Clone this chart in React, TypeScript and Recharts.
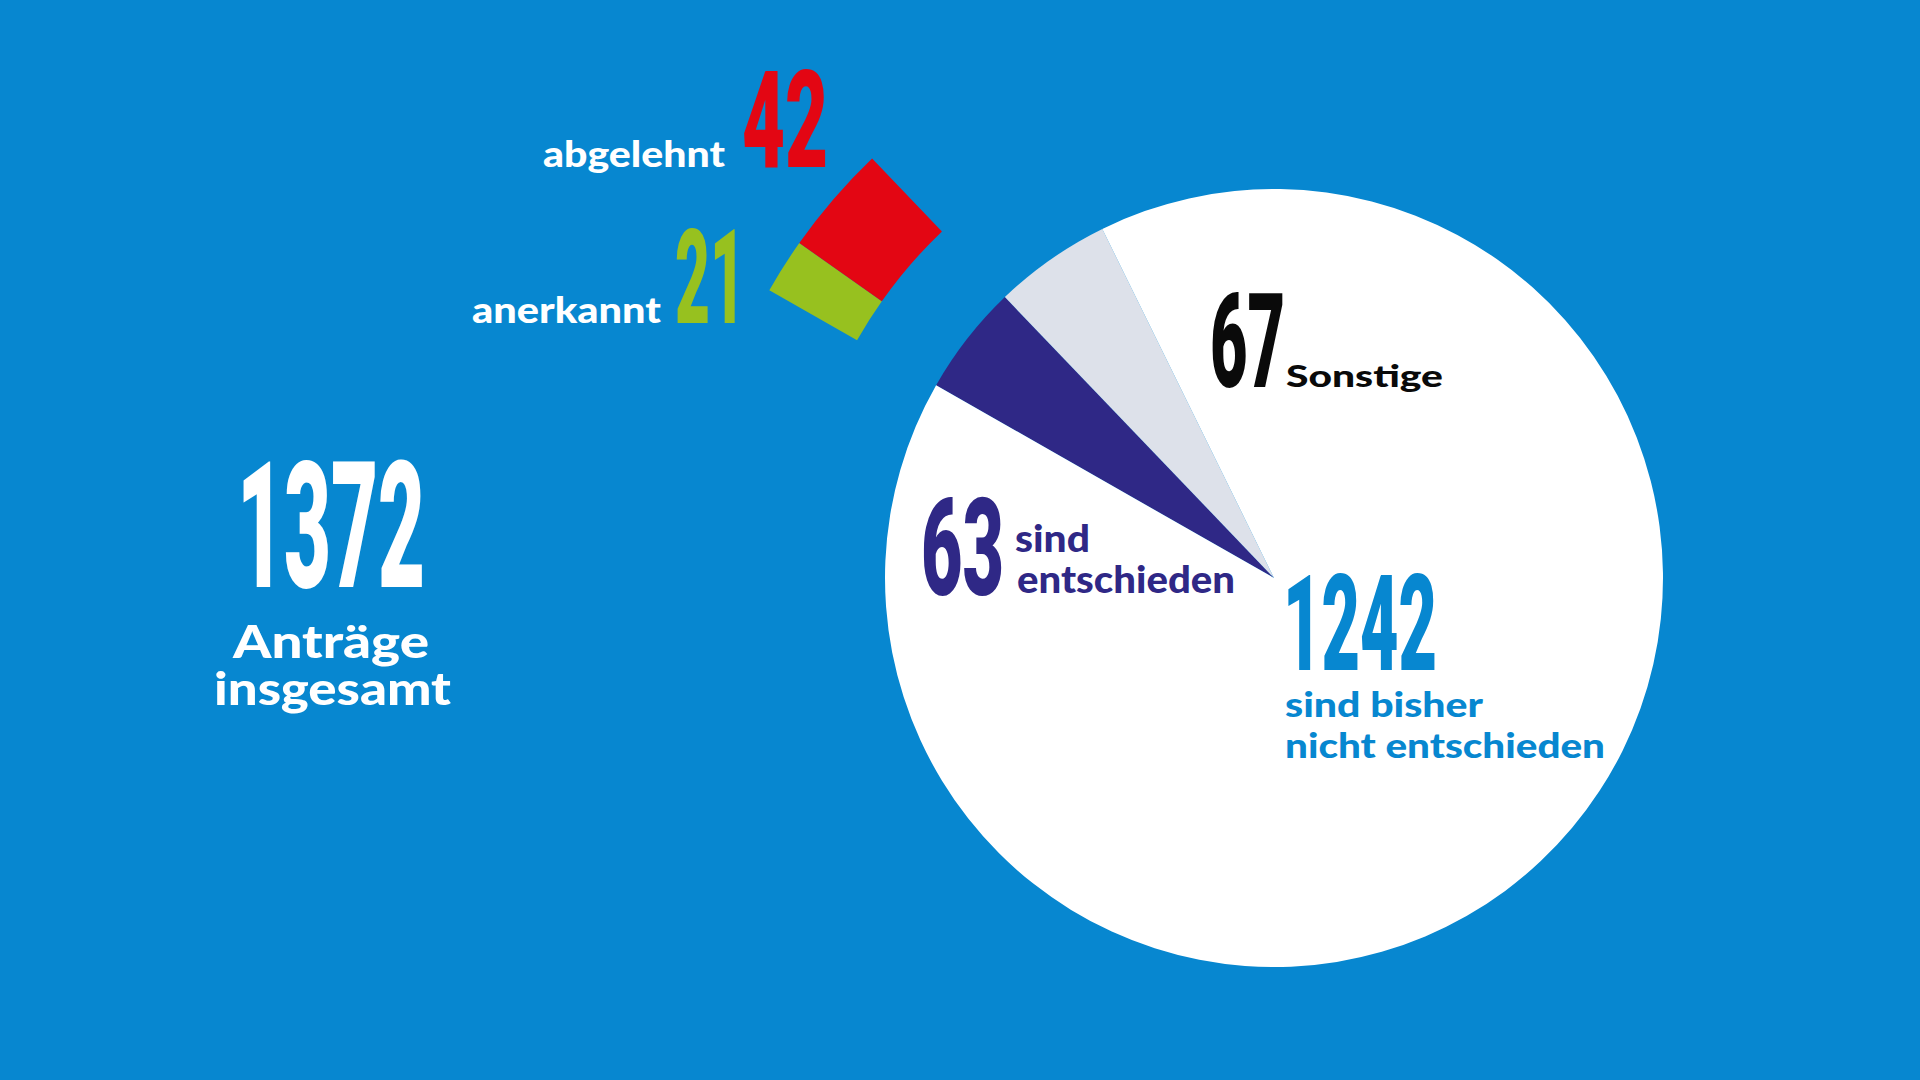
import React from "react";
import { PieChart, Pie, Cell } from "recharts";

const BG = "#0787d0";

// main pie: all applications
const mainNames = ["sind entschieden", "Sonstige", "sind bisher nicht entschieden"];
const mainValues = [63, 67, 1242];
const mainColors = ["#2f2886", "#dde1ea", "#ffffff"];

// decided applications, pulled out of the pie
const decidedNames = ["anerkannt", "abgelehnt"];
const decidedValues = [21, 42];
const decidedColors = ["#97c11f", "#e30613"];

const totalValue = 1372;
const totalLabel = ["Anträge", "insgesamt"];

const mainData = mainNames.map((name, i) => ({ name, value: mainValues[i] }));
const restValue = mainValues[1] + mainValues[2];
const outerData = [
  ...decidedNames.map((name, i) => ({ name, value: decidedValues[i] })),
  { name: "rest", value: restValue },
];

const CX = 1274;
const CY = 578;
const START = 150.3;

const numFont = "Roboto, 'DejaVu Sans', sans-serif";
const txtFont = "Lato, 'Open Sans', sans-serif";

function Num(props: { x: number; y: number; size: number; w: number; fill: string; children: React.ReactNode }) {
  return (
    <text
      x={props.x}
      y={props.y}
      fontSize={props.size}
      fontFamily={numFont}
      fontWeight={900}
      fill={props.fill}
      textLength={props.w}
      lengthAdjust="spacingAndGlyphs"
    >
      {props.children}
    </text>
  );
}

function Txt(props: { x: number; y: number; size: number; w: number; fill: string; children: React.ReactNode }) {
  return (
    <text
      x={props.x}
      y={props.y}
      fontSize={props.size}
      fontFamily={txtFont}
      fontWeight={900}
      fill={props.fill}
      textLength={props.w}
      lengthAdjust="spacingAndGlyphs"
    >
      {props.children}
    </text>
  );
}

export default function App() {
  return (
    <div style={{ position: "absolute", left: 0, top: 0, width: 1920, height: 1080, background: BG, overflow: "hidden" }}>
      <PieChart width={1920} height={1080} margin={{ top: 0, right: 0, bottom: 0, left: 0 }}>
        <Pie
          data={mainData}
          dataKey="value"
          cx={CX}
          cy={CY}
          outerRadius={389}
          startAngle={START}
          endAngle={START - 360}
          stroke="none"
          isAnimationActive={false}
        >
          {mainData.map((d, i) => (
            <Cell key={d.name} fill={mainColors[i]} />
          ))}
        </Pie>
        <Pie
          data={outerData}
          dataKey="value"
          cx={CX}
          cy={CY}
          innerRadius={480}
          outerRadius={581}
          startAngle={START}
          endAngle={START - 360}
          stroke="none"
          isAnimationActive={false}
        >
          {outerData.map((d, i) => (
            <Cell key={d.name} fill={i < decidedColors.length ? decidedColors[i] : "none"} />
          ))}
        </Pie>
      </PieChart>
      <svg width={1920} height={1080} style={{ position: "absolute", left: 0, top: 0, pointerEvents: "none" }}>
        <Txt x={543} y={167} size={36} w={182} fill="#ffffff">{decidedNames[1]}</Txt>
        <Num x={742} y={167} size={135} w={86} fill={decidedColors[1]}>{decidedValues[1]}</Num>
        <Txt x={472} y={323} size={36} w={189} fill="#ffffff">{decidedNames[0]}</Txt>
        <Num x={675} y={323} size={132} w={70} fill={decidedColors[0]}>{decidedValues[0]}</Num>

        <Num x={237} y={587} size={176} w={188} fill="#ffffff">{totalValue}</Num>
        <Txt x={233} y={658} size={46} w={196} fill="#ffffff">{totalLabel[0]}</Txt>
        <Txt x={214} y={705} size={46} w={237} fill="#ffffff">{totalLabel[1]}</Txt>

        <Num x={1210} y={387} size={132} w={75} fill="#0a0a0a">{mainValues[1]}</Num>
        <Txt x={1286} y={387} size={30} w={157} fill="#0a0a0a">{mainNames[1]}</Txt>

        <Num x={921} y={595} size={136} w={83} fill={mainColors[0]}>{mainValues[0]}</Num>
        <Txt x={1015} y={552} size={38} w={75} fill={mainColors[0]}>sind</Txt>
        <Txt x={1017} y={593} size={38} w={218} fill={mainColors[0]}>entschieden</Txt>

        <Num x={1283} y={670} size={134} w={154} fill={BG}>{mainValues[2]}</Num>
        <Txt x={1285} y={717} size={35} w={198} fill={BG}>sind bisher</Txt>
        <Txt x={1285} y={758} size={35} w={320} fill={BG}>nicht entschieden</Txt>
      </svg>
    </div>
  );
}
